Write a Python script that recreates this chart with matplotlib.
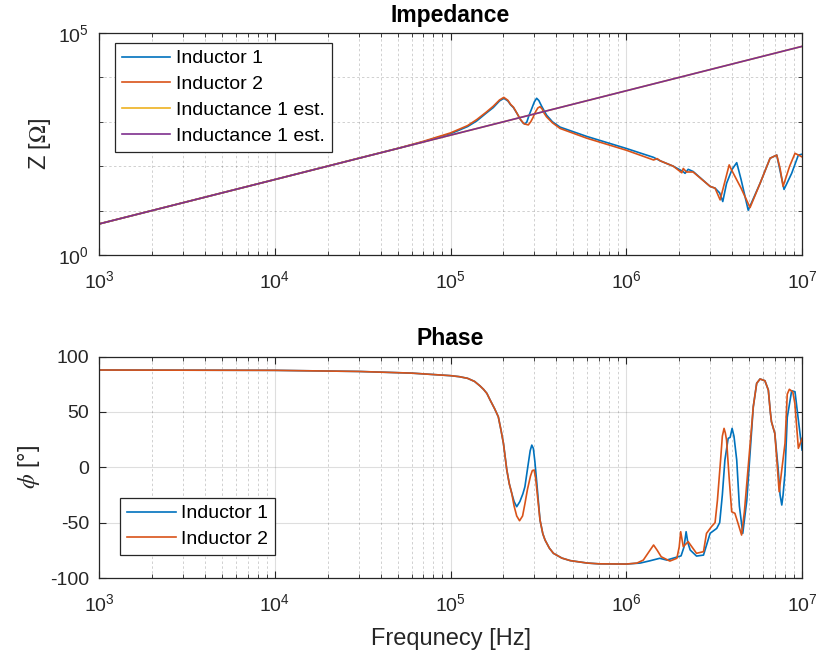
import matplotlib
matplotlib.use("Agg")
import matplotlib.pyplot as plt
from matplotlib.ticker import FixedLocator, LogLocator, NullFormatter, NullLocator
import numpy as np

plt.rcParams['font.family'] = ['Liberation Sans', 'DejaVu Sans']
plt.rcParams['mathtext.fontset'] = 'stix'
plt.rcParams['axes.unicode_minus'] = False

# ---- Impedance magnitude [Ohm] ----
f_z1 = [1e3, 1e4, 3e4, 5e4, 7e4, 1e5, 1.25e5, 1.41e5, 1.6e5, 1.75e5, 1.9e5,
        2.01e5, 2.12e5, 2.2e5, 2.28e5, 2.4e5, 2.5e5, 2.58e5, 2.65e5, 2.72e5,
        2.8e5, 2.9e5, 3.0e5, 3.09e5, 3.18e5, 3.3e5, 3.52e5, 3.8e5, 4.2e5,
        5.96e5, 1e6, 1.43e6, 1.56e6, 1.85e6, 2.1e6, 2.16e6, 2.25e6, 2.4e6,
        3.0e6, 3.2e6, 3.4e6, 3.54e6, 3.72e6, 4.0e6, 4.25e6, 4.5e6, 4.94e6,
        5.77e6, 6.58e6, 7.18e6, 7.5e6, 7.9e6, 8.73e6, 9.53e6, 1e7]
z1 = [5.0, 50, 151, 251, 355, 537, 780, 1047, 1580, 2089, 2950,
      3388, 2950, 2400, 2089, 1500, 1122, 950, 891, 1000,
      1413, 2000, 2820, 3388, 3020, 2239, 1413, 1000, 759,
      468, 251, 158, 132, 100, 76, 69, 85, 76,
      35, 32, 25, 16, 41, 85, 120, 50, 10.2,
      41, 151, 178, 79, 30, 69, 178, 186]

f_z2 = [1e3, 1e4, 3e4, 5e4, 7e4, 1e5, 1.25e5, 1.41e5, 1.6e5, 1.75e5, 1.9e5,
        2.01e5, 2.12e5, 2.2e5, 2.28e5, 2.4e5, 2.5e5, 2.62e5, 2.77e5, 2.86e5,
        2.95e5, 3.05e5, 3.14e5, 3.23e5, 3.32e5, 3.4e5, 3.52e5, 3.8e5, 4.2e5,
        5.96e5, 1e6, 1.43e6, 1.5e6, 1.56e6, 1.85e6, 2.07e6, 2.11e6, 2.2e6,
        2.4e6, 3.0e6, 3.2e6, 3.42e6, 3.85e6, 3.98e6, 4.5e6, 5.06e6, 5.77e6,
        6.58e6, 7.18e6, 7.5e6, 7.8e6, 8.5e6, 9.12e6, 1e7]
z2 = [5.0, 50, 151, 251, 363, 562, 820, 1122, 1660, 2239, 3100,
      3548, 3050, 2450, 2138, 1500, 1122, 900, 851, 1000,
      1259, 1700, 2050, 2188, 1950, 1585, 1288, 950, 708,
      427, 229, 138, 148, 132, 100, 71, 89, 74,
      74, 35, 32, 17.4, 107, 81, 32, 11.7, 41,
      151, 178, 89, 35, 100, 195, 162]

# estimated inductance line (Z = 2*pi*f*L)
f_est = [1e3, 1e7]
z_est1 = [5.0, 5.0e4]
z_est2 = [5.0, 5.0e4]

# ---- Phase [deg] ----
f_p1 = [1e3, 1e4, 3e4, 6e4, 1e5, 1.12e5, 1.25e5, 1.37e5, 1.47e5, 1.54e5,
        1.61e5, 1.68e5, 1.78e5, 1.87e5, 1.94e5, 2.0e5, 2.09e5, 2.16e5, 2.23e5,
        2.3e5, 2.38e5, 2.48e5, 2.58e5, 2.65e5, 2.75e5, 2.84e5, 2.9e5, 2.96e5,
        3.02e5, 3.1e5, 3.17e5, 3.23e5, 3.35e5, 3.45e5, 3.65e5, 3.85e5, 4.3e5,
        4.8e5, 6e5, 7e5, 1e6, 1.2e6, 1.36e6, 1.55e6, 1.7e6, 2.05e6, 2.13e6,
        2.19e6, 2.24e6, 2.31e6, 2.51e6, 2.75e6, 3.0e6, 3.27e6, 3.4e6, 3.52e6,
        3.64e6, 3.8e6, 3.9e6, 4.0e6, 4.1e6, 4.25e6, 4.4e6, 4.6e6, 4.85e6,
        5.0e6, 5.28e6, 5.52e6, 5.77e6, 6.15e6, 6.43e6, 6.6e6, 6.7e6, 7.0e6,
        7.3e6, 7.5e6, 7.67e6, 7.8e6, 8.0e6, 8.24e6, 8.73e6, 9.12e6, 9.53e6,
        1e7]
p1 = [87.8, 87.5, 86.5, 85.0, 82.7, 81.8, 80.3, 77.5, 73.5, 70.4,
      66.7, 60.7, 53.0, 45.6, 33.0, 21.6, -2.4, -15.0, -23.5,
      -31.0, -35.6, -31.0, -24.0, -17.6, 0.0, 15.0, 20.0, 17.0,
      5.0, -15.0, -33.0, -47.7, -60.0, -65.7, -73.0, -77.7, -82.0,
      -84.3, -86.5, -87.2, -87.4, -86.5, -84.5, -82.2, -83.8, -80.0, -72.0,
      -58.2, -68.0, -74.7, -80.2, -79.3, -59.6, -55.2, -50.0, -25.0,
      6.5, 26.1, 27.0, 35.1, 28.0, 6.5, -35.0, -59.7, -30.0,
      0.5, 54.7, 75.8, 79.7, 78.1, 69.7, 50.0, 41.1, 30.6,
      0.0, -25.0, -34.1, -25.0, -5.0, 45.0, 69.1, 68.2, 42.7,
      15.6]

f_p2 = [1e3, 1e4, 3e4, 6e4, 1e5, 1.12e5, 1.25e5, 1.37e5, 1.47e5, 1.54e5,
        1.61e5, 1.68e5, 1.78e5, 1.87e5, 1.94e5, 2.0e5, 2.09e5, 2.16e5, 2.23e5,
        2.3e5, 2.38e5, 2.47e5, 2.57e5, 2.65e5, 2.74e5, 2.85e5, 2.92e5, 2.99e5,
        3.05e5, 3.12e5, 3.23e5, 3.35e5, 3.45e5, 3.65e5, 3.85e5, 4.3e5, 4.8e5,
        6e5, 7e5, 1e6, 1.15e6, 1.25e6, 1.35e6, 1.43e6, 1.5e6, 1.58e6, 1.77e6,
        1.94e6, 2.0e6, 2.04e6, 2.08e6, 2.11e6, 2.25e6, 2.51e6, 2.75e6, 2.86e6,
        3.05e6, 3.2e6, 3.3e6, 3.44e6, 3.52e6, 3.6e6, 3.66e6, 3.72e6, 3.85e6,
        3.98e6, 4.15e6, 4.35e6, 4.53e6, 4.7e6, 4.94e6, 5.28e6, 5.52e6, 5.77e6,
        6.15e6, 6.43e6, 6.6e6, 6.7e6, 7.0e6, 7.2e6, 7.41e6, 7.7e6, 8.0e6,
        8.24e6, 8.47e6, 8.86e6, 9.1e6, 9.53e6, 1e7]
p2 = [87.8, 87.5, 86.5, 85.0, 82.7, 81.8, 80.3, 77.5, 73.5, 70.4,
      66.7, 60.7, 53.0, 45.6, 33.0, 21.6, -2.4, -15.0, -23.5,
      -35.0, -44.0, -48.3, -44.0, -33.0, -20.0, -8.0, -3.0, -2.5,
      -10.0, -25.0, -47.7, -60.0, -65.7, -73.0, -77.7, -82.0, -84.3,
      -86.5, -87.2, -87.4, -86.5, -83.8, -76.0, -70.2, -75.0, -80.8, -84.7,
      -82.2, -72.0, -58.2, -66.0, -71.7, -67.2, -77.7, -76.2, -59.7,
      -53.7, -50.0, -30.0, 6.5, 28.0, 35.1, 31.0, 24.6, -10.0,
      -40.2, -41.6, -52.0, -61.2, -40.0, 0.5, 54.7, 75.8, 79.7,
      78.1, 69.7, 50.0, 41.1, 30.6, 5.0, -22.1, 0.0, 21.6,
      66.0, 70.4, 68.0, 57.7, 17.1, 26.1]

labels_z = ['Inductor 1', 'Inductor 2', 'Inductance 1 est.', 'Inductance 1 est.']
labels_p = ['Inductor 1', 'Inductor 2']

C_BLUE, C_RED, C_YEL, C_PUR = '#0072BD', '#D95319', '#EDB120', '#7E2F8E'
AX_COL = '#262626'
LW = 1.2

fig = plt.figure(figsize=(8.21, 6.64), dpi=100)
ax1 = fig.add_axes([0.1206, 0.6160, 0.8563, 0.3343])
ax2 = fig.add_axes([0.1206, 0.1295, 0.8563, 0.3336])


def style(ax):
    for s in ax.spines.values():
        s.set_color(AX_COL)
        s.set_linewidth(0.9)
    ax.tick_params(which='both', direction='in', top=True, right=True,
                   colors=AX_COL, labelcolor=AX_COL, labelsize=14)
    ax.tick_params(which='major', length=5, width=0.8)
    ax.tick_params(axis='y', which='major', pad=7)
    ax.tick_params(axis='x', which='major', pad=11)
    ax.tick_params(which='minor', length=3, width=0.6)
    ax.grid(True, which='major', color=AX_COL, alpha=0.15, linewidth=0.8,
            linestyle='-')
    ax.grid(True, which='minor', color=AX_COL, alpha=0.22, linewidth=0.7,
            linestyle=(0, (2.5, 2.5)))
    ax.set_axisbelow(True)


def make_legend(ax, anchor):
    leg = ax.legend(loc='upper left', bbox_to_anchor=anchor,
                    borderaxespad=0, fontsize=14, handlelength=2.5,
                    labelspacing=0.42, handletextpad=0.3, borderpad=0.35,
                    fancybox=False, framealpha=1, edgecolor=AX_COL)
    leg.get_frame().set_linewidth(0.9)
    return leg


# Impedance
ax1.plot(f_z1, z1, color=C_BLUE, lw=LW, label=labels_z[0])
ax1.plot(f_z2, z2, color=C_RED, lw=LW, label=labels_z[1])
ax1.plot(f_est, z_est1, color=C_YEL, lw=LW, label=labels_z[2])
ax1.plot(f_est, z_est2, color=C_PUR, lw=LW, label=labels_z[3])
ax1.set_xscale('log')
ax1.set_yscale('log')
ax1.set_xlim(1e3, 1e7)
ax1.set_ylim(1, 1e5)
ax1.yaxis.set_major_locator(FixedLocator([1, 1e5]))
ax1.yaxis.set_minor_locator(FixedLocator([1e1, 1e2, 1e3, 1e4]))
ax1.yaxis.set_minor_formatter(NullFormatter())
ax1.xaxis.set_major_locator(LogLocator(base=10, numticks=10))
ax1.xaxis.set_minor_locator(LogLocator(base=10, subs=np.arange(2, 10), numticks=10))
ax1.xaxis.set_minor_formatter(NullFormatter())
style(ax1)
ax1.set_title('Impedance', fontsize=16.5, fontweight='bold', color='#000000', pad=8)
ax1.set_ylabel(r'Z [$\Omega$]', fontsize=17, color=AX_COL, labelpad=4)
make_legend(ax1, (0.0228, 0.955))

# Phase
ax2.plot(f_p1, p1, color=C_BLUE, lw=LW, label=labels_p[0])
ax2.plot(f_p2, p2, color=C_RED, lw=LW, label=labels_p[1])
ax2.set_xscale('log')
ax2.set_xlim(1e3, 1e7)
ax2.set_ylim(-100, 100)
ax2.set_yticks([-100, -50, 0, 50, 100])
ax2.yaxis.set_minor_locator(NullLocator())
ax2.xaxis.set_major_locator(LogLocator(base=10, numticks=10))
ax2.xaxis.set_minor_locator(LogLocator(base=10, subs=np.arange(2, 10), numticks=10))
ax2.xaxis.set_minor_formatter(NullFormatter())
style(ax2)
ax2.set_title('Phase', fontsize=16.5, fontweight='bold', color='#000000', pad=8)
ax2.set_ylabel(r'$\phi$ [°]', fontsize=17, color=AX_COL, labelpad=6)
ax2.set_xlabel('Frequnecy [Hz]', fontsize=17, color=AX_COL, labelpad=9)
make_legend(ax2, (0.030, 0.361))

fig.savefig('out.png', dpi=100)
